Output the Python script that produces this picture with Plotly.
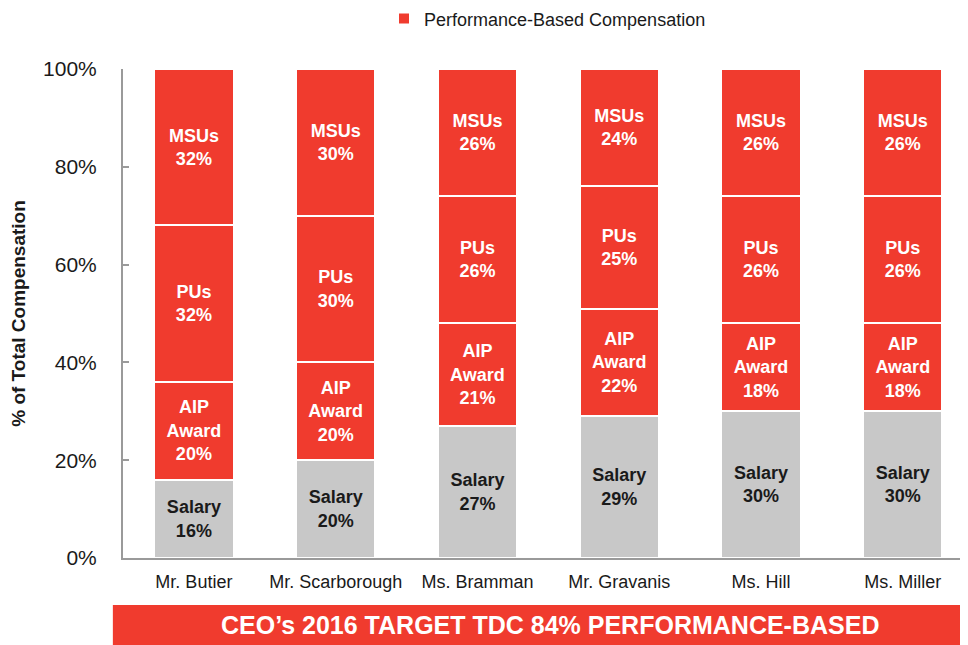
import plotly.graph_objects as go

executives = ["Mr. Butier", "Mr. Scarborough", "Ms. Bramman", "Mr. Gravanis", "Ms. Hill", "Ms. Miller"]
salary = [16, 20, 27, 29, 30, 30]
aip = [20, 20, 21, 22, 18, 18]
pus = [32, 30, 26, 25, 26, 26]
msus = [32, 30, 26, 24, 26, 26]
y_ticks = [0, 20, 40, 60, 80, 100]
y_tick_labels = ["0%", "20%", "40%", "60%", "80%", "100%"]

RED = "#F03B2E"
GRAY = "#C8C8C8"
FONT = "Liberation Sans, Arial, Helvetica, sans-serif"

fig = go.Figure()

segments = [
    ("Salary", salary, GRAY, "#1a1a1a", False),
    ("AIP<br>Award", aip, RED, "white", True),
    ("PUs", pus, RED, "white", True),
    ("MSUs", msus, RED, "white", True),
]

first_red = True
for label, vals, color, tcolor, perf in segments:
    show = perf and first_red
    if show:
        first_red = False
    fig.add_trace(go.Bar(
        x=executives,
        y=vals,
        name="Performance-Based Compensation" if perf else "Salary",
        legendgroup="perf" if perf else "salary",
        showlegend=show,
        marker=dict(color=color, line=dict(color="white", width=2)),
        width=0.56,
        text=[f"<b>{label}<br>{v}%</b>" for v in vals],
        textposition="inside",
        insidetextanchor="middle",
        textangle=0,
        constraintext="none",
        textfont=dict(family=FONT, size=18, color=tcolor),
        hoverinfo="skip",
    ))

fig.update_layout(
    barmode="stack",
    width=960,
    height=637,
    paper_bgcolor="white",
    plot_bgcolor="white",
    margin=dict(l=115, r=0, t=61, b=87, autoexpand=False),
    font=dict(family=FONT, color="#1a1a1a"),
    legend=dict(
        orientation="h",
        xref="container", yref="container",
        x=0.562, xanchor="center",
        y=0.983, yanchor="middle",
        font=dict(family=FONT, size=18, color="#1a1a1a"),
    ),
    xaxis=dict(
        range=[-0.5, 5.46],
        automargin=False,
        showline=True, linecolor="#9a9a9a", linewidth=2,
        ticks="", showgrid=False,
        ticklabelstandoff=6,
        tickfont=dict(family=FONT, size=18, color="#1a1a1a"),
    ),
    yaxis=dict(
        range=[0, 100],
        automargin=False,
        tickvals=y_ticks,
        ticktext=y_tick_labels,
        showline=True, linecolor="#9a9a9a", linewidth=2,
        ticks="inside", ticklen=6, tickcolor="#9a9a9a", tickwidth=2,
        showgrid=False, zeroline=False,
        tickfont=dict(family=FONT, size=21, color="#1a1a1a"),
        ticklabelstandoff=20,
        title=dict(text="<b>% of Total Compensation</b>", font=dict(family=FONT, size=19, color="#1a1a1a"), standoff=14),
    ),
)

fig.add_shape(
    type="rect", xref="paper", yref="paper",
    x0=-0.012, x1=1.0, y0=-0.178, y1=-0.096,
    fillcolor=RED, line=dict(width=0), layer="above",
)
fig.add_annotation(
    xref="paper", yref="paper", x=0.505, y=-0.137,
    text="<b>CEO’s 2016 TARGET TDC 84% PERFORMANCE-BASED</b>",
    showarrow=False, xanchor="center", yanchor="middle",
    font=dict(family=FONT, size=25, color="white"),
)

fig.write_html("out.html")
